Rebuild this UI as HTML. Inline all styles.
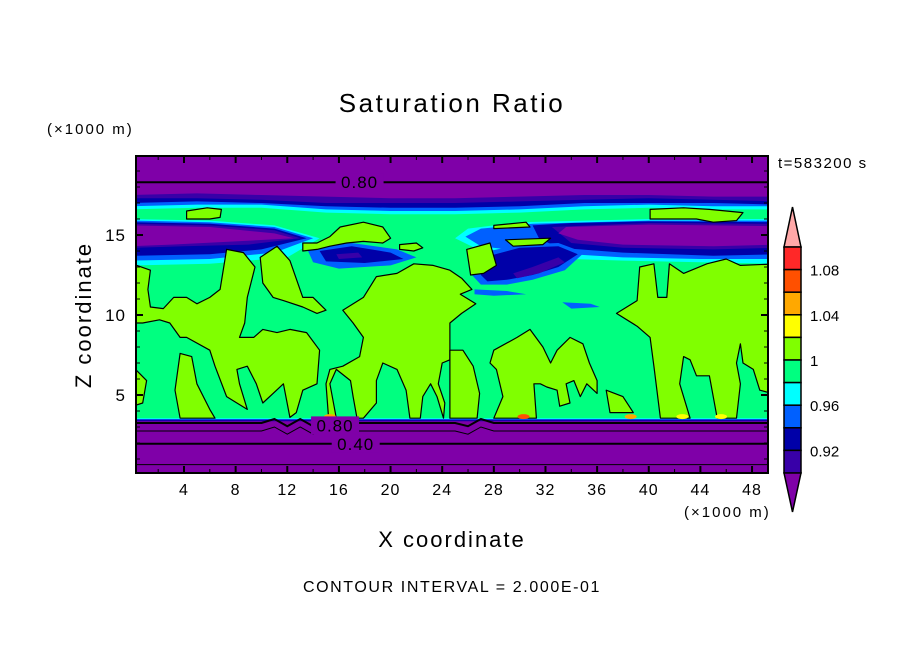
<!DOCTYPE html>
<html><head><meta charset="utf-8"><style>
html,body{margin:0;padding:0;background:#fff;}
svg{display:block;font-family:"Liberation Sans","DejaVu Sans",sans-serif;}
</style></head><body>
<svg id="chart" width="904" height="654" viewBox="0 0 904 654" xmlns="http://www.w3.org/2000/svg">
<defs><clipPath id="pc"><rect x="136" y="156" width="632" height="317"/></clipPath></defs>
<text x="452" y="112" font-size="26" letter-spacing="2.5" text-anchor="middle">Saturation Ratio</text>
<text x="47" y="134" font-size="15" letter-spacing="2">(×1000 m)</text>
<text x="778" y="168" font-size="15" letter-spacing="1.5">t=583200 s</text>
<text transform="translate(91,315) rotate(-90)" font-size="22" letter-spacing="2" text-anchor="middle">Z coordinate</text>
<text x="452" y="547" font-size="22" letter-spacing="2" text-anchor="middle">X coordinate</text>
<text x="684" y="517" font-size="15" letter-spacing="2">(×1000 m)</text>
<text x="452" y="592" font-size="16" letter-spacing="1.6" text-anchor="middle">CONTOUR INTERVAL = 2.000E-01</text>
<g id="field" clip-path="url(#pc)"></g>
<g id="axes"></g>
<g id="cbar"></g>
</svg>
<script>
const NS="http://www.w3.org/2000/svg";
const X=v=>184+(v-4)*12.91, Z=v=>475-16*v;
const C={pur:"#7f00a8",dp:"#3800a8",navy:"#0000a8",blue:"#0060ff",cyan:"#00ffff",green:"#00ff80",lime:"#80ff00",yel:"#ffff00",ora:"#ffa800",red:"#ff5000"};
// colorbar data
const cbColors=["#ff2828","#ff5000","#ffa800","#ffff00","#80ff00","#00ff80","#00ffff","#0060ff","#0000a8","#3800a8"];
const cbLabels=["1.08","1.04","1","0.96","0.92"];
// axis ticks
const xTicks=[4,8,12,16,20,24,28,32,36,40,44,48];
const yTicks=[5,10,15];
// top deck profiles
const deckX=[0,5,10,15,20,25,30,35,40,45,50];
const deckDp=[17.5,17.6,17.5,17.4,17.3,17.3,17.4,17.5,17.5,17.4,17.4];
const deckNavy=[17.3,17.3,17.2,17.0,17.0,17.0,17.1,17.2,17.3,17.2,17.1];
const deckBlue=[17.0,17.1,17.0,16.8,16.7,16.7,16.8,17.0,17.0,17.0,16.9];
const deckCyan=[16.8,16.9,16.9,16.6,16.5,16.5,16.6,16.8,16.9,16.8,16.8];
const deckGreen=[16.6,16.7,16.7,16.4,16.3,16.3,16.4,16.6,16.7,16.6,16.6];
// inner dark bands
const leftCyan=[[0,16.0],[6,15.9],[11,15.6],[14.5,14.8],[12,13.6],[6,13.2],[0,13.1]];
const leftBlue=[[0,15.9],[6,15.8],[11,15.5],[14,14.8],[11,13.9],[6,13.5],[0,13.4]];
const leftNavy=[[0,15.8],[6,15.7],[11,15.4],[13.5,14.8],[10,14.1],[6,13.8],[0,13.7]];
const leftDp=[[0,15.7],[6,15.6],[11,15.3],[13,14.8],[9,14.4],[4,14.3],[0,14.2]];
const leftPur=[[0,15.6],[6,15.5],[11,15.1],[12.5,14.8],[8,14.6],[3,14.4],[0,14.3]];
const rightCyan=[[25,14.8],[26,15.4],[30,15.8],[40,16.0],[50,16.0],[50,13.2],[44,13.3],[38,13.4],[34,13.5],[30,13.8],[26.5,14.2]];
const rightBlue=[[25.8,14.9],[27,15.4],[31,15.7],[40,15.9],[50,15.9],[50,13.5],[44,13.5],[38,13.6],[34,13.8],[30,14.0],[27,14.3]];
const rightNavy=[[31,15.6],[34,15.75],[40,15.85],[50,15.8],[50,13.8],[45,13.7],[38,13.9],[33,14.2],[31.5,14.8]];
const rightDp=[[32.5,15.5],[40,15.75],[50,15.7],[50,14.2],[45,14.1],[38,14.2],[34,14.5]];
const rightPur=[[33.6,15.5],[40,15.65],[50,15.55],[50,14.4],[45,14.3],[38,14.4],[34.5,14.7],[33,15.1]];
const midBlue=[[26.5,13.8],[30,14.4],[33,14.5],[35,13.9],[33.5,12.8],[31,12.2],[29,11.9],[27,11.9],[26.3,12.5]];
const midNavy=[[27.2,13.6],[30,14.2],[33,14.3],[34.5,13.8],[33,13.0],[31,12.5],[29,12.2],[27.5,12.1],[27,12.5]];
const midPur=[[29.5,12.6],[31,13.0],[33,13.6],[33.5,13.3],[31.5,12.6],[29.8,12.3]];
const cenBlue=[[13.5,14.2],[17,14.5],[20.5,14.1],[22,13.6],[20,13.1],[16,12.9],[14,13.3]];
const cenNavy=[[14.5,14.0],[17,14.3],[20,13.9],[21,13.5],[18,13.25],[15,13.35]];
const cenPur=[[15.8,13.8],[17.5,13.9],[17.8,13.6],[16,13.5]];
const streakBlue=[[26.5,11.6],[29,11.5],[30.5,11.3],[28,11.2],[26.5,11.3]];
const streakBlue2=[[33.3,10.8],[35.5,10.7],[36.2,10.5],[34,10.4]];
// lime (1.00-1.02) regions
const limeA=[[0,13.2],[1.4,12.8],[1.2,11.6],[1.4,10.5],[2.4,10.4],[3.2,11.1],[4.2,11.1],[5.0,10.7],[6.0,11.1],[6.8,11.6],[7.3,14.1],[8.6,13.9],[9.5,13.0],[8.9,11.1],[8.7,9.5],[8.3,8.6],[9.4,8.6],[10.1,9.1],[11.2,8.9],[12.2,9.1],[13.5,8.9],[14.5,7.8],[14.3,5.7],[13.2,5.3],[12.7,3.9],[12.2,3.6],[11.7,5.7],[10.9,5.1],[10.1,4.5],[9.6,5.7],[8.9,6.8],[8.1,6.6],[8.3,5.7],[8.9,4.1],[8.1,4.5],[7.3,4.9],[6.4,6.8],[6.0,7.8],[4.2,8.6],[3.7,8.6],[2.9,9.5],[2.1,9.7],[0.8,9.5],[0,9.5]];
const limeB=[[3.7,7.6],[4.6,7.4],[5.0,5.7],[6.0,4.1],[6.4,3.55],[3.7,3.55],[3.3,5.3]];
const limeC=[[0,6.8],[1.1,5.9],[0.8,4.5],[0,4.3]];
const limeD=[[9.9,13.6],[11.2,14.3],[12.2,13.4],[13.2,11.1],[14.0,11.1],[15.0,10.3],[14.3,10.1],[13.2,10.5],[11.7,10.9],[10.9,11.1],[10.1,12.0]];
const limeE=[[16.3,10.3],[17.9,11.1],[18.9,12.4],[20.5,12.6],[21.8,13.2],[23.3,13.1],[24.6,12.8],[25.5,12.3],[26.3,11.6],[25.4,11.3],[26.6,10.7],[25.5,10.1],[24.6,9.5],[24.6,7.2],[24.0,7.0],[23.7,5.7],[24.2,4.5],[24.1,3.55],[23.6,4.9],[23.1,5.7],[22.5,4.9],[22.3,3.55],[21.5,3.55],[21.2,5.3],[20.5,6.6],[19.4,7.0],[18.9,5.9],[18.9,4.5],[17.9,3.55],[17.4,3.55],[17.1,4.9],[16.9,5.9],[15.8,6.6],[15.3,5.7],[15.8,3.55],[15.2,3.55],[15.0,5.7],[15.3,6.6],[16.3,6.8],[17.6,7.4],[17.9,8.6],[17.1,9.5]];
const limeL=[[24.6,7.8],[25.6,7.8],[26.4,6.8],[26.9,5.1],[26.7,3.55],[24.6,3.55]];
const limeF1=[[4.2,16.5],[5.8,16.7],[6.9,16.6],[6.8,16.1],[6.0,16.0],[4.2,16.0]];
const limeF2=[[13.2,14.5],[14.3,14.5],[15.3,14.9],[16.1,15.5],[17.9,15.8],[19.4,15.5],[20.0,14.8],[19.4,14.5],[17.9,14.6],[16.6,14.5],[15.3,14.3],[14.3,14.1],[13.2,14.0]];
const limeF3=[[20.7,14.4],[22.0,14.5],[22.5,14.2],[21.8,14.0],[20.7,14.1]];
const limeG=[[40.1,16.6],[42.7,16.7],[44.7,16.6],[47.3,16.4],[46.8,15.9],[45.0,15.8],[43.7,16.0],[40.1,16.0]];
const limeH1=[[28.0,15.6],[30.5,15.8],[30.8,15.5],[28.0,15.4]];
const limeH2=[[28.9,14.7],[32.4,14.8],[31.8,14.4],[29.5,14.3]];
const limeI=[[25.9,14.1],[27.7,14.5],[28.2,13.1],[27.2,12.6],[26.2,12.5]];
const limeJ=[[37.5,10.1],[39.1,10.9],[39.3,13.0],[40.4,13.2],[40.7,11.1],[41.4,11.1],[41.6,13.2],[42.7,12.6],[44.5,13.2],[46.0,13.5],[47.1,13.1],[50,13.2],[50,5.0],[48.6,5.3],[48.1,6.6],[47.3,7.0],[47.1,8.2],[46.8,7.0],[47.1,5.7],[46.8,3.55],[45.3,3.55],[44.7,6.2],[43.7,6.2],[43.2,7.2],[42.7,7.4],[42.4,5.7],[43.2,3.55],[40.9,3.55],[40.4,6.8],[40.1,8.6],[39.1,9.3]];
const limeK=[[28.0,7.8],[29.8,8.6],[30.8,9.1],[31.8,8.0],[32.4,7.0],[32.9,7.8],[33.9,8.6],[34.9,8.2],[35.4,7.0],[36.0,5.9],[36.0,5.1],[35.2,5.7],[34.7,4.9],[34.2,5.9],[33.6,5.7],[33.9,4.5],[33.1,4.3],[32.9,5.3],[32.1,5.5],[31.6,5.7],[31.1,5.7],[31.3,3.55],[28.0,3.55],[28.7,4.9],[28.2,6.6],[27.7,7.0]];
const limeM=[[36.7,5.3],[38.0,4.9],[38.8,3.9],[37.0,3.9]];
// warm spots
const spotX=[30.3,38.6,42.6,45.6,15.3];
const spotColor=["red","ora","yel","yel","ora"];
// contour lines in lower stable layer (z values)
const lowLines=[3.25,2.75,1.95,0.65];
const lowWidth=[2,1,2,1];
const topLine=18.3;

const field=document.getElementById('field');
function poly(pts,fill,name,stroke){
  const p=document.createElementNS(NS,'polygon');
  p.setAttribute('points',pts.map(q=>X(q[0]).toFixed(1)+','+Z(q[1]).toFixed(1)).join(' '));
  p.setAttribute('fill',fill);
  if(stroke){p.setAttribute('stroke','#000');p.setAttribute('stroke-width','1.2');p.setAttribute('stroke-linejoin','round');}
  
  
  field.appendChild(p);
}
const bg=document.createElementNS(NS,'rect');
bg.setAttribute('x',136);bg.setAttribute('y',156);bg.setAttribute('width',632);bg.setAttribute('height',317);bg.setAttribute('fill',C.pur);


field.appendChild(bg);
function deck(prof,bottom,fill,name){
  const pts=deckX.map((x,i)=>[x,prof[i]]);
  pts.push([50,bottom]);pts.push([0,bottom]);
  poly(pts,fill,name);
}
deck(deckDp,3.35,C.dp,'deck-092');
deck(deckNavy,3.4,C.navy,'deck-094');
deck(deckBlue,3.45,C.blue,'deck-096');
deck(deckCyan,3.5,C.cyan,'deck-098');
deck(deckGreen,3.55,C.green,'deck-100');
[[leftCyan,C.cyan],[leftBlue,C.blue],[leftNavy,C.navy],[leftDp,C.dp],[leftPur,C.pur]].forEach((a,i)=>poly(a[0],a[1],'left-dry-band-'+i));
[[rightCyan,C.cyan],[rightBlue,C.blue],[rightNavy,C.navy],[rightDp,C.dp],[rightPur,C.pur]].forEach((a,i)=>poly(a[0],a[1],'right-dry-band-'+i));
[[midBlue,C.blue],[midNavy,C.navy],[midPur,C.dp]].forEach((a,i)=>poly(a[0],a[1],'mid-dry-blob-'+i));
[[cenBlue,C.blue],[cenNavy,C.navy],[cenPur,C.dp]].forEach((a,i)=>poly(a[0],a[1],'center-dry-blob-'+i));
poly(streakBlue,C.blue,'blue-streak');
poly(streakBlue2,C.blue,'blue-streak');
const limes={limeA,limeB,limeC,limeD,limeE,limeL,limeF1,limeF2,limeF3,limeG,limeH1,limeH2,limeI,limeJ,limeK,limeM};
Object.keys(limes).forEach(k=>poly(limes[k],C.lime,'saturated-region-'+k.slice(4).toLowerCase(),true));
spotX.forEach((x,i)=>{
  const e=document.createElementNS(NS,'ellipse');
  e.setAttribute('cx',X(x));e.setAttribute('cy',Z(3.65));e.setAttribute('rx',6);e.setAttribute('ry',2.5);
  e.setAttribute('fill',C[spotColor[i]]);
  
  
  field.appendChild(e);
});
function hline(z,w,name,wavy){
  const p=document.createElementNS(NS,'path');
  let d='M'+X(0)+','+Z(z);
  for(let x=1;x<=50;x+=1){const dz=wavy&&(x>10&&x<16||x>25&&x<28)?((x%2)?0.25:-0.2):0;d+=' L'+X(x).toFixed(1)+','+Z(z+dz).toFixed(1);}
  p.setAttribute('d',d);p.setAttribute('fill','none');p.setAttribute('stroke','#000');p.setAttribute('stroke-width',w);
  
  
  field.appendChild(p);
}
hline(topLine,2,'contour-080-upper',false);
lowLines.forEach((z,i)=>hline(z,lowWidth[i],'contour-lower-'+i,i<2));
function clabel(x,z,t,name){
  const r=document.createElementNS(NS,'rect');
  r.setAttribute('x',X(x)-24);r.setAttribute('y',Z(z)-9);r.setAttribute('width',48);r.setAttribute('height',18);r.setAttribute('fill',C.pur);
  
  
  field.appendChild(r);
  const tx=document.createElementNS(NS,'text');
  tx.setAttribute('x',X(x));tx.setAttribute('y',Z(z)+6);tx.setAttribute('text-anchor','middle');tx.setAttribute('font-size','17');tx.setAttribute('letter-spacing','1');
  tx.textContent=t;
  
  
  field.appendChild(tx);
}
clabel(17.6,topLine,'0.80','contour-label-080-top');
clabel(15.7,3.1,'0.80','contour-label-080-low');
clabel(17.3,lowLines[2],'0.40','contour-label-040');

// axes
const ax=document.getElementById('axes');
function ln(x1,y1,x2,y2,w,name){
  const l=document.createElementNS(NS,'line');
  l.setAttribute('x1',x1);l.setAttribute('y1',y1);l.setAttribute('x2',x2);l.setAttribute('y2',y2);l.setAttribute('stroke','#000');l.setAttribute('stroke-width',w);
  
  
  ax.appendChild(l);
}
const fr=document.createElementNS(NS,'rect');
fr.setAttribute('x',136);fr.setAttribute('y',156);fr.setAttribute('width',632);fr.setAttribute('height',317);fr.setAttribute('fill','none');fr.setAttribute('stroke','#000');fr.setAttribute('stroke-width',2);


ax.appendChild(fr);
for(let v=2;v<50;v+=2){const maj=xTicks.includes(v);const L=maj?7:4;ln(X(v),473,X(v),473-L,maj?2:1,'x-tick');ln(X(v),156,X(v),156+L,maj?2:1,'x-tick-top');}
for(let v=1;v<20;v++){const maj=yTicks.includes(v);const L=maj?7:4;ln(136,Z(v),136+L,Z(v),maj?2:1,'y-tick');ln(768,Z(v),768-L,Z(v),maj?2:1,'y-tick-right');}
xTicks.forEach(v=>{const t=document.createElementNS(NS,'text');t.setAttribute('x',X(v));t.setAttribute('y',495);t.setAttribute('font-size','16');t.setAttribute('letter-spacing','1');t.setAttribute('text-anchor','middle');t.textContent=v;


ax.appendChild(t);});
yTicks.forEach(v=>{const t=document.createElementNS(NS,'text');t.setAttribute('x',126);t.setAttribute('y',Z(v)+6);t.setAttribute('font-size','17');t.setAttribute('letter-spacing','1');t.setAttribute('text-anchor','end');t.textContent=v;


ax.appendChild(t);});

// colorbar
const cb=document.getElementById('cbar');
const cbx=784,cbw=17,cbTop=247,cbH=22.6;
function cpoly(pts,fill,name){const p=document.createElementNS(NS,'polygon');p.setAttribute('points',pts);p.setAttribute('fill',fill);p.setAttribute('stroke','#000');p.setAttribute('stroke-width','1.5');


cb.appendChild(p);}
cpoly(`${cbx},${cbTop} ${cbx+cbw/2},207 ${cbx+cbw},${cbTop}`,'#ffa8a8','colorbar-max-arrow');
cbColors.forEach((c,i)=>{const r=document.createElementNS(NS,'rect');r.setAttribute('x',cbx);r.setAttribute('y',cbTop+i*cbH);r.setAttribute('width',cbw);r.setAttribute('height',cbH);r.setAttribute('fill',c);r.setAttribute('stroke','#000');r.setAttribute('stroke-width','1.5');


cb.appendChild(r);});
const cbBot=cbTop+cbColors.length*cbH;
cpoly(`${cbx},${cbBot} ${cbx+cbw/2},512 ${cbx+cbw},${cbBot}`,C.pur,'colorbar-min-arrow');
cbLabels.forEach((s,i)=>{const t=document.createElementNS(NS,'text');t.setAttribute('x',810);t.setAttribute('y',cbTop+(2*i+1)*cbH+6);t.setAttribute('font-size','15');t.textContent=s;


cb.appendChild(t);});
</script>
</body></html>
